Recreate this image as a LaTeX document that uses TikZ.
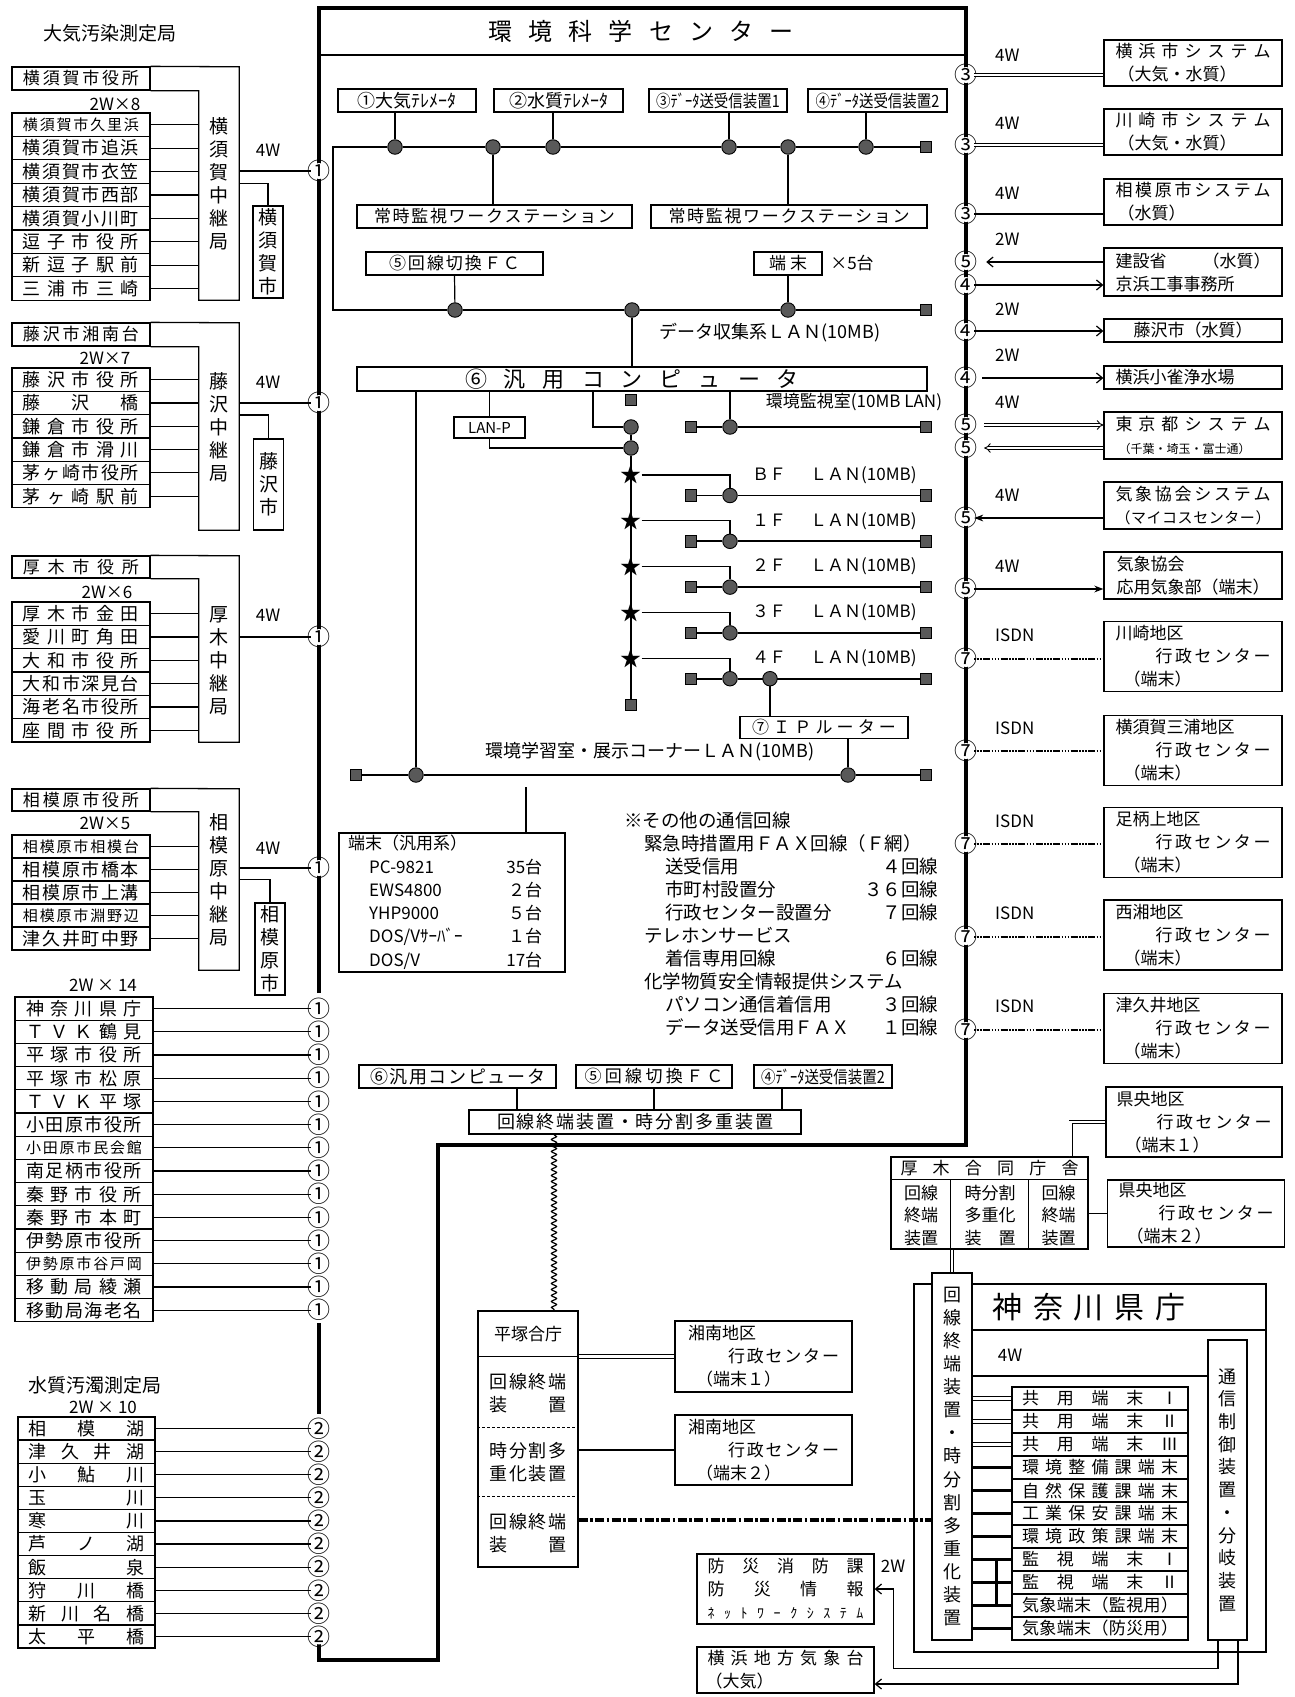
\documentclass[tikz,border=0pt]{standalone}
\usepackage{fontspec}
\setmainfont{Noto Sans CJK JP}
\usepackage{graphicx}
\usetikzlibrary{arrows.meta,decorations.pathmorphing}

% spread a run of characters over a given width
\def\spreadend{}
\newcommand\spreadjp[2]{\makebox[#1][s]{\expandafter\spreadfirst#2\spreadend}}
\def\spreadfirst#1{#1\spreadrest}
\def\spreadrest#1{\ifx#1\spreadend\else\hfil#1\expandafter\spreadrest\fi}
% circled number centred on the node
\newcommand\cgl[1]{\makebox[0pt]{\raisebox{-0.38em}[0pt][0pt]{#1}}}

\begin{document}
\begin{tikzpicture}[x=1pt,y=-1pt,
  every node/.style={font=\fontsize{17}{23}\selectfont,inner sep=0pt},
  box/.style={draw,line width=1.3pt,fill=white},
  outl/.style={line width=1.3pt},
  ln/.style={line width=1.2pt},
  lan/.style={line width=1.8pt},
  trunk/.style={line width=3.6pt},
  dl/.style={double,double distance=2.4pt,line width=0.9pt},
  cn/.style={circle,fill=white,inner sep=0pt,minimum size=16pt,font=\fontsize{23}{23}\selectfont},
  tap/.style={circle,draw,line width=0.9pt,fill=black!65,minimum size=14.5pt},
  term/.style={draw,line width=0.9pt,fill=black!65,minimum size=11.5pt},
  vtxt/.style={align=center,font=\fontsize{19}{23}\selectfont},
  barb/.style={-{Straight Barb[length=6pt,width=10pt]}},
  isdn/.style={line width=1.1pt,dash pattern=on 1.5pt off 1.5pt on 1.5pt off 1.5pt on 1.5pt off 1.5pt on 7pt off 1.5pt},
  hdash/.style={line width=3.2pt,dash pattern=on 9pt off 2.5pt on 2.5pt off 2.5pt},
  rbox/.style={box,minimum width=178pt,align=left},
  gbox/.style={box,minimum width=177pt,minimum height=70pt,align=left}
]
\fill[white] (0,0) rectangle (1295,1697);
\useasboundingbox (0,0) rectangle (1295,1697);

% trunk of the centre
\draw[trunk] (319,993) -- (319,8) -- (966,8) -- (966,1145) -- (438,1145) -- (438,1660) -- (319,1660) -- (319,1643);
\draw[trunk] (319,1323) -- (319,1414);
\draw[ln] (319,55) -- (966,55);
\node (title) at (641,31) {\fontsize{24}{24}\selectfont\spreadjp{305pt}{環境科学センター}};

% ---- left: 大気汚染測定局
\node (air) at (110,33) {\fontsize{19}{19}\selectfont 大気汚染測定局};

% 横須賀
\node[box,minimum width=138pt,minimum height=23pt] (yk0) at (81,78.5) {\spreadjp{116pt}{横須賀市役所}};
\node[minimum width=40pt,minimum height=233pt] (ykr) at (219,183.5) {};
\draw[outl] (yk0.north east) -- (ykr.north east) -- (ykr.south east) -- (ykr.south west) -- (ykr.west |- yk0.south east) -- (yk0.south east);
\node[vtxt] (ykrt) at (219,184) {横\\須\\賀\\中\\継\\局};
\node (yk2w) at (115,104) {2W×8};
\foreach \t/\sz [count=\i] in {横須賀市久里浜/15,横須賀市追浜/18,横須賀市衣笠/18,横須賀市西部/18,
  横須賀小川町/18,逗子市役所/18,新逗子駅前/18,三浦市三崎/18}{
  \node[box,minimum width=138pt,minimum height=23.4pt,font=\fontsize{\sz}{\sz}\selectfont] (yk\i) at (81,{113+23.4*(\i-0.5)}) {\spreadjp{116pt}{\t}};
  \draw[ln] (yk\i.east) -- (yk\i.east -| ykr.west);
}
\node[cn] (c1a) at (319,171) {\cgl{①}};
\node (yk4w) at (268,150) {4W};
\draw[ln] (ykr.east |- c1a) -- (c1a);
\node[box,minimum width=30pt,minimum height=92pt,vtxt] (ykc) at (268,252) {横\\須\\賀\\市};
\draw[ln] (ykr.east) -| (ykc.north);

% 藤沢
\node[box,minimum width=138pt,minimum height=23pt] (fj0) at (81,334.5) {\spreadjp{116pt}{藤沢市湘南台}};
\node[minimum width=40pt,minimum height=207pt] (fjr) at (219,426.5) {};
\draw[outl] (fj0.north east) -- (fjr.north east) -- (fjr.south east) -- (fjr.south west) -- (fjr.west |- fj0.south east) -- (fj0.south east);
\node[vtxt] (fjrt) at (219,427) {藤\\沢\\中\\継\\局};
\node (fj2w) at (105,358) {2W×7};
\foreach \t/\sz [count=\i] in {藤沢市役所/18,藤沢橋/18,鎌倉市役所/18,鎌倉市滑川/18,茅ヶ崎市役所/18,茅ヶ崎駅前/18}{
  \node[box,minimum width=138pt,minimum height=23.3pt,font=\fontsize{\sz}{\sz}\selectfont] (fj\i) at (81,{368+23.3*(\i-0.5)}) {\spreadjp{116pt}{\t}};
  \draw[ln] (fj\i.east) -- (fj\i.east -| fjr.west);
}
\node[cn] (c1b) at (319,403) {\cgl{①}};
\node (fj4w) at (268,382) {4W};
\draw[ln] (fjr.east |- c1b) -- (c1b);
\node[box,minimum width=30pt,minimum height=91pt,vtxt] (fjc) at (268.5,484.5) {藤\\沢\\市};
\draw[ln] ([yshift=11.5pt]fjr.east) -| (fjc.north);

% 厚木
\node[box,minimum width=138pt,minimum height=22pt] (at0) at (81,567) {\spreadjp{116pt}{厚木市役所}};
\node[minimum width=40pt,minimum height=186pt] (atr) at (219,649) {};
\draw[outl] (at0.north east) -- (atr.north east) -- (atr.south east) -- (atr.south west) -- (atr.west |- at0.south east) -- (at0.south east);
\node[vtxt] (atrt) at (219,661) {厚\\木\\中\\継\\局};
\node (at2w) at (107,592) {2W×6};
\foreach \t/\sz [count=\i] in {厚木市金田/18,愛川町角田/18,大和市役所/18,大和市深見台/18,海老名市役所/18,座間市役所/18}{
  \node[box,minimum width=138pt,minimum height=23.33pt,font=\fontsize{\sz}{\sz}\selectfont] (at\i) at (81,{602+23.33*(\i-0.5)}) {\spreadjp{116pt}{\t}};
  \draw[ln] (at\i.east) -- (at\i.east -| atr.west);
}
\node[cn] (c1c) at (319,637) {\cgl{①}};
\node (at4w) at (268,615) {4W};
\draw[ln] (atr.east |- c1c) -- (c1c);

% 相模原
\node[box,minimum width=138pt,minimum height=22pt] (sg0) at (81,800) {\spreadjp{116pt}{相模原市役所}};
\node[minimum width=40pt,minimum height=181pt] (sgr) at (219,879.5) {};
\draw[outl] (sg0.north east) -- (sgr.north east) -- (sgr.south east) -- (sgr.south west) -- (sgr.west |- sg0.south east) -- (sg0.south east);
\node[vtxt] (sgrt) at (219,880) {相\\模\\原\\中\\継\\局};
\node (sg2w) at (105,823) {2W×5};
\foreach \t/\sz [count=\i] in {相模原市相模台/15,相模原市橋本/18,相模原市上溝/18,相模原市淵野辺/15,津久井町中野/18}{
  \node[box,minimum width=138pt,minimum height=23pt,font=\fontsize{\sz}{\sz}\selectfont] (sg\i) at (81,{835+23*(\i-0.5)}) {\spreadjp{116pt}{\t}};
  \draw[ln] (sg\i.east) -- (sg\i.east -| sgr.west);
}
\node[cn] (c1d) at (319,868) {\cgl{①}};
\node (sg4w) at (268,848) {4W};
\draw[ln] (sgr.east |- c1d) -- (c1d);
\node[box,minimum width=30pt,minimum height=92pt,vtxt] (sgc) at (270,949) {相\\模\\原\\市};
\draw[ln] (sgr.east) -| (sgc.north);

% 2W x 14
\node (k14) at (103,985) {2W × 14};
\foreach \t/\sz [count=\i] in {神奈川県庁/18,ＴＶＫ鶴見/18,平塚市役所/18,平塚市松原/18,ＴＶＫ平塚/18,小田原市役所/18,
  小田原市民会館/15,南足柄市役所/18,秦野市役所/18,秦野市本町/18,伊勢原市役所/18,伊勢原市谷戸岡/15,移動局綾瀬/18,移動局海老名/18}{
  \node[box,minimum width=138pt,minimum height=23.2pt,font=\fontsize{\sz}{\sz}\selectfont] (ka\i) at (84,{997+23.2*(\i-0.5)}) {\spreadjp{116pt}{\t}};
  \node[cn] (kc\i) at (319,{997+23.2*(\i-0.5)}) {\cgl{①}};
  \draw[ln] (ka\i.east) -- (kc\i);
}

% 水質汚濁測定局
\node (wq) at (95,1385) {\fontsize{19}{19}\selectfont 水質汚濁測定局};
\node (w10) at (103,1407) {2W × 10};
\foreach \t [count=\i] in {相模湖,津久井湖,小鮎川,玉川,寒川,芦ノ湖,飯泉,狩川橋,新川名橋,太平橋}{
  \node[box,minimum width=137pt,minimum height=23.1pt,font=\fontsize{18}{18}\selectfont] (wa\i) at (86.5,{1417+23.1*(\i-0.5)}) {\spreadjp{116pt}{\t}};
  \node[cn] (wc\i) at (319,{1417+23.1*(\i-0.5)}) {\cgl{②}};
  \draw[ln] (wa\i.east) -- (wc\i);
}

% ---- centre: データ収集系
\node[box,minimum width=138pt,minimum height=23pt] (tel1) at (407,100.5) {\fontsize{18}{18}\selectfont ①大気ﾃﾚﾒｰﾀ};
\node[box,minimum width=129pt,minimum height=23pt] (tel2) at (558.5,100.5) {\fontsize{18}{18}\selectfont ②水質ﾃﾚﾒｰﾀ};
\node[box,minimum width=138pt,minimum height=23pt] (dat1) at (718,100.5) {\scalebox{0.85}[1]{③ﾃﾞｰﾀ送受信装置1}};
\node[box,minimum width=139pt,minimum height=23pt] (dat2) at (877.5,100.5) {\scalebox{0.85}[1]{④ﾃﾞｰﾀ送受信装置2}};
\coordinate (lanA) at (333,147);
\coordinate (lanB) at (333,310);
\node[tap] (t1) at (395,147) {};
\node[tap] (t2) at (493,147) {};
\node[tap] (t3) at (553,147) {};
\node[tap] (t4) at (729,147) {};
\node[tap] (t5) at (788,147) {};
\node[tap] (t6) at (866,147) {};
\node[term] (e1) at (926,147) {};
\node[tap] (f1) at (455,310) {};
\node[tap] (f2) at (632,310) {};
\node[tap] (f3) at (788,310) {};
\node[term] (e2) at (926,310) {};
\draw[lan] (t1) -- (t2) -- (t3) -- (t4) -- (t5) -- (t6) -- (e1);
\draw[lan] (t1) -- (lanA) -- (lanB) -- (f1) -- (f2) -- (f3) -- (e2);
\draw[ln] (tel1.south -| t1) -- (t1);
\draw[ln] (tel2.south -| t3) -- (t3);
\draw[ln] (dat1.south -| t4) -- (t4);
\draw[ln] (dat2.south -| t6) -- (t6);
\node[box,minimum width=275pt,minimum height=23pt] (ws1) at (494.5,216.5) {\spreadjp{241pt}{常時監視ワークステーション}};
\node[box,minimum width=276pt,minimum height=23pt] (ws2) at (789,216.5) {\spreadjp{241pt}{常時監視ワークステーション}};
\draw[ln] (t2) -- (t2 |- ws1.north);
\draw[ln] (t5) -- (t5 |- ws2.north);
\node[box,minimum width=177pt,minimum height=23pt] (fc) at (454.5,263.5) {\spreadjp{131pt}{⑤回線切換ＦＣ}};
\node[box,minimum width=68pt,minimum height=23pt] (tmn) at (788,263.5) {\spreadjp{38pt}{端末}};
\node (x5) at (852,263) {×5台};
\draw[ln] (fc.south) -- (f1);
\draw[ln] (tmn.south) -- (f3);
\node (lan2lbl) at (770,333) {\fontsize{18}{18}\selectfont データ収集系ＬＡＮ(10MB)};

% 汎用コンピュータ
\node[box,minimum width=570pt,minimum height=24pt] (hy) at (642,379) {\fontsize{22}{22}\selectfont\hspace*{-20pt}\spreadjp{334pt}{⑥汎用コンピュータ}};
\draw[ln] (f2) -- (f2 |- hy.north);
\node[box,minimum width=71pt,minimum height=21pt] (lp) at (489.5,427.5) {\fontsize{15}{15}\selectfont LAN-P};
\draw[ln] (lp.north |- hy.south) -- (lp.north);
\node[term] (sq0) at (631,400) {};
\node[tap] (va) at (631,427) {};
\node[tap] (vb) at (631,448) {};
\node[term] (sqend) at (631,705) {};
\coordinate (hk) at (593,391);
\draw[ln] (hk) |- (va);
\draw[ln] (lp.south) |- (vb);
\draw[ln] (va) -- (vb) -- (sqend);
% 環境監視室
\node[term] (sqk1) at (691,427) {};
\node[tap] (tk) at (730,427) {};
\node[term] (sqk2) at (926,427) {};
\draw[ln] (tk |- hy.south) -- (tk);
\draw[lan] (sqk1) -- (tk) -- (sqk2);
\node (kklbl) at (854,402) {環境監視室(10MB LAN)};
% floors
\foreach \fl [count=\i] in {ＢＦ,１Ｆ,２Ｆ,３Ｆ,４Ｆ}{
  \node[font=\fontsize{21}{21}\selectfont] (st\i) at (631,{475+45.8*(\i-1)}) {★};
  \node[term] (fa\i) at (691,{495.5+45.8*(\i-1)}) {};
  \node[tap] (fb\i) at (730,{495.5+45.8*(\i-1)}) {};
  \node[term] (fe\i) at (926,{495.5+45.8*(\i-1)}) {};
  \draw[ln] (st\i) -| (fb\i);
  \draw[lan] (fa\i) -- (fb\i) -- (fe\i);
  \node[anchor=west] (fl\i) at (752,{475+45.8*(\i-1)}) {\fl\hspace{24pt}ＬＡＮ(10MB)};
}
\node[tap] (ipt) at (770,678.7) {};
\node[box,minimum width=168pt,minimum height=22pt] (ip) at (824,727.5) {\spreadjp{144pt}{⑦ＩＰルーター}};
\draw[ln] (ipt) -- (ipt |- ip.north);
% 環境学習室 LAN
\node[term] (sqg1) at (356,775) {};
\node[tap] (g1) at (416,775) {};
\node[tap] (g2) at (848,775) {};
\node[term] (sqg2) at (926,775) {};
\draw[lan] (sqg1) -- (g1) -- (g2) -- (sqg2);
\draw[ln] (g1 |- hy.south) -- (g1);
\draw[ln] (ip.south -| g2) -- (g2);
\node (lan3lbl) at (650,752) {\fontsize{18}{18}\selectfont 環境学習室・展示コーナーＬＡＮ(10MB)};

% 端末（汎用系）
\node[box,minimum width=226pt,minimum height=139pt] (hb) at (452,902.5) {};
\coordinate (hbs) at (526,787);
\draw[ln] (hbs) -- (hbs |- hb.north);
\node[anchor=north west,align=left,font=\fontsize{17}{23.3}\selectfont] (hbt) at (348,835) {端末（汎用系）\\
  \hspace*{21pt}\makebox[173pt]{PC-9821\hfill 35台}\\
  \hspace*{21pt}\makebox[173pt]{EWS4800\hfill ２台}\\
  \hspace*{21pt}\makebox[173pt]{YHP9000\hfill ５台}\\
  \hspace*{21pt}\makebox[173pt]{DOS/Vｻｰﾊﾞｰ\hfill １台}\\
  \hspace*{21pt}\makebox[173pt]{DOS/V\hfill 17台}};

% その他の通信回線
\node[anchor=north west,align=left,font=\fontsize{18.5}{23}\selectfont] (notes) at (624,812) {※その他の通信回線\\
  \hspace*{20pt}緊急時措置用ＦＡＸ回線（Ｆ網）\\
  \hspace*{41pt}\makebox[273pt]{送受信用\hfill ４回線}\\
  \hspace*{41pt}\makebox[273pt]{市町村設置分\hfill ３６回線}\\
  \hspace*{41pt}\makebox[273pt]{行政センター設置分\hfill ７回線}\\
  \hspace*{20pt}テレホンサービス\\
  \hspace*{41pt}\makebox[273pt]{着信専用回線\hfill ６回線}\\
  \hspace*{20pt}化学物質安全情報提供システム\\
  \hspace*{41pt}\makebox[273pt]{パソコン通信着信用\hfill ３回線}\\
  \hspace*{41pt}\makebox[273pt]{データ送受信用ＦＡＸ\hfill １回線}};

% 回線終端装置・時分割多重装置
\node[box,minimum width=197pt,minimum height=23pt] (bf6) at (457.5,1076.5) {\fontsize{18}{18}\selectfont\spreadjp{175pt}{⑥汎用コンピュータ}};
\node[box,minimum width=156pt,minimum height=23pt] (bf5) at (654,1076.5) {\spreadjp{139pt}{⑤回線切換ＦＣ}};
\node[box,minimum width=138pt,minimum height=23pt] (bf4) at (823,1076.5) {\scalebox{0.85}[1]{④ﾃﾞｰﾀ送受信装置2}};
\node[box,minimum width=332pt,minimum height=24pt] (mux) at (635,1122) {\fontsize{18}{18}\selectfont\spreadjp{276pt}{回線終端装置・時分割多重装置}};
\coordinate (s6) at (517,1088);
\coordinate (s4) at (782,1088);
\draw[ln] (s6) -- (s6 |- mux.north);
\draw[ln] (bf5.south) -- (bf5.south |- mux.north);
\draw[ln] (s4) -- (s4 |- mux.north);

% 平塚合庁
\node[box,minimum width=100pt,minimum height=256pt] (hira) at (528,1439) {};
\draw[ln] ([yshift=-46pt]hira.north west) -- ([yshift=-46pt]hira.north east);
\draw[ln,dash pattern=on 3pt off 2pt] ([yshift=-117pt]hira.north west) -- ([yshift=-117pt]hira.north east);
\draw[ln,dash pattern=on 3pt off 2pt] ([yshift=-186pt]hira.north west) -- ([yshift=-186pt]hira.north east);
\node (hr0) at (528,1334) {平塚合庁};
\node[align=left,font=\fontsize{18}{23}\selectfont] (hr1) at (528,1393.5) {\spreadjp{77pt}{回線終端}\\\spreadjp{77pt}{装置}};
\node[align=left,font=\fontsize{18}{23}\selectfont] (hr2) at (528,1462.5) {\spreadjp{77pt}{時分割多}\\\spreadjp{77pt}{重化装置}};
\node[align=left,font=\fontsize{18}{23}\selectfont] (hr3) at (528,1533.5) {\spreadjp{77pt}{回線終端}\\\spreadjp{77pt}{装置}};
\draw[ln,decorate,decoration={snake,amplitude=2.5pt,segment length=6pt}] ([xshift=-81pt]mux.south) -- ([xshift=26pt]hira.north);
\node[gbox,minimum height=71pt] (sh1) at (763.5,1356.5) {湘南地区\\\hspace*{40pt}\spreadjp{111pt}{行政センター}\\\hspace*{8pt}（端末１）};
\node[gbox] (sh2) at (763.5,1450) {湘南地区\\\hspace*{40pt}\spreadjp{111pt}{行政センター}\\\hspace*{8pt}（端末２）};
\draw[dl] (sh1.west -| hira.east) -- (sh1.west);
\draw[ln] (sh2.west -| hira.east) -- (sh2.west);

% ---- right side
\foreach \g/\y [count=\i] in {③/75,③/145,③/214,⑤/262,④/285,④/331,④/378,⑤/425,⑤/448,⑤/518,⑤/589,⑦/659,⑦/751,⑦/844,⑦/937,⑦/1030}
  \node[cn] (rc\i) at (966,\y) {\cgl{\g}};
\foreach \w/\y [count=\i] in {4W/55,4W/123,4W/193,2W/239,2W/309,2W/355,4W/402,4W/495,4W/566,ISDN/635,ISDN/728,ISDN/821,ISDN/913,ISDN/1006}
  \node[anchor=west] (wl\i) at (995,\y) {\w};
\node[rbox,minimum height=46pt] (R1) at (1193,63) {\spreadjp{155pt}{横浜市システム}\\\hspace*{2pt}（大気・水質）};
\node[rbox,minimum height=46pt] (R2) at (1193,132) {\spreadjp{155pt}{川崎市システム}\\\hspace*{2pt}（大気・水質）};
\node[rbox,minimum height=46pt] (R3) at (1193,202) {\spreadjp{155pt}{相模原市システム}\\\hspace*{2pt}（水質）};
\node[rbox,minimum height=48pt] (R4) at (1193,272) {\makebox[155pt]{建設省\hfill（水質）}\\京浜工事事務所};
\node[box,minimum width=178pt,minimum height=23pt] (R5) at (1193,330.5) {藤沢市（水質）};
\node[rbox,minimum height=23pt] (R6) at (1193,377.5) {\makebox[155pt][l]{横浜小雀浄水場}};
\node[rbox,minimum height=47pt] (R7) at (1193,435.5) {\spreadjp{155pt}{東京都システム}\\{\fontsize{12}{14}\selectfont\hspace*{3pt}（千葉・埼玉・富士通）}};
\node[rbox,minimum height=47pt] (R8) at (1193,505.5) {\spreadjp{155pt}{気象協会システム}\\{\fontsize{15}{15}\selectfont\spreadjp{155pt}{（マイコスセンター）}}};
\node[rbox,minimum height=47pt] (R9) at (1193,575.5) {気象協会\\応用気象部（端末）};
\draw[dl] (rc1) -- (rc1 -| R1.west);
\draw[dl] (rc2) -- (rc2 -| R2.west);
\draw[ln] (rc3) -- (rc3 -| R3.west);
\draw[ln,barb,shorten >=12pt] (rc4 -| R4.west) -- (rc4);
\draw[ln,barb] (rc5) -- (rc5 -| R4.west);
\draw[ln,barb] (rc6) -- (rc6 -| R5.west);
\draw[ln,barb,shorten <=8pt] (rc7) -- (rc7 -| R6.west);
\draw[dl,-{Implies},shorten <=10pt] (rc8) -- (rc8 -| R7.west);
\draw[dl,-{Implies},shorten >=10pt] (rc9 -| R7.west) -- (rc9);
\draw[line width=2.8pt,-{Stealth[length=9pt]}] (rc10 -| R8.west) -- (rc10);
\draw[line width=2.8pt,-{Stealth[length=9pt]}] (rc11) -- (rc11 -| R9.west);
\foreach \n/\y/\nm [count=\i from 12] in {K1/656.5/川崎地区,K2/750.5/横須賀三浦地区,K3/842.5/足柄上地区,K4/935/西湘地区,K5/1028.5/津久井地区}{
  \node[gbox,minimum width=178pt] (\n) at (1193,\y) {\nm\\\hspace*{40pt}\spreadjp{115pt}{行政センター}\\\hspace*{8pt}（端末）};
  \draw[isdn] (rc\i) -- (rc\i -| \n.west);
}
\node[gbox,minimum width=176pt] (KO1) at (1194,1122) {県央地区\\\hspace*{40pt}\spreadjp{115pt}{行政センター}\\\hspace*{8pt}（端末１）};
\node[gbox,minimum height=67pt] (KO2) at (1196,1213.5) {県央地区\\\hspace*{40pt}\spreadjp{115pt}{行政センター}\\\hspace*{8pt}（端末２）};

% 厚木合同庁舎
\node[box,minimum width=197pt,minimum height=92pt] (atg) at (989.5,1203) {};
\draw[ln] ([yshift=-23pt]atg.north west) -- ([yshift=-23pt]atg.north east);
\draw[ln] ([xshift=60pt,yshift=-23pt]atg.north west) -- ([xshift=60pt]atg.south west);
\draw[ln] ([xshift=138pt,yshift=-23pt]atg.north west) -- ([xshift=138pt]atg.south west);
\node (atgh) at (989.5,1168.5) {\spreadjp{178pt}{厚木合同庁舎}};
\node[align=center,font=\fontsize{17}{22.5}\selectfont] (atc1) at (921,1215.5) {回線\\終端\\装置};
\node[align=center,font=\fontsize{17}{22.5}\selectfont] (atc2) at (990,1215.5) {時分割\\多重化\\\spreadjp{51pt}{装置}};
\node[align=center,font=\fontsize{17}{22.5}\selectfont] (atc3) at (1058.5,1215.5) {回線\\終端\\装置};
\draw[dl] ([xshift=-18pt]atg.north east) |- (KO1.west);
\draw[ln] (atg.east |- KO2.west) -- (KO2.west);

% 神奈川県庁
\node[draw,line width=1.5pt,minimum width=352pt,minimum height=368pt] (kfr) at (1090,1468) {};
\draw[outl] (972,1330) -- (1266,1330);
\node (kt) at (1089,1307) {\fontsize{30}{30}\selectfont\spreadjp{193pt}{神奈川県庁}};
\node[box,minimum width=40pt,minimum height=367pt,vtxt,font=\fontsize{18}{23.1}\selectfont] (kvt) at (952,1456.5) {回\\線\\終\\端\\装\\置\\・\\時\\分\\割\\多\\重\\化\\装\\置};
\draw[dl] (kvt.north |- atg.south) -- (kvt.north);
\node[box,minimum width=39pt,minimum height=300pt,vtxt,font=\fontsize{18}{22.7}\selectfont] (tsu) at (1227.5,1490) {通\\信\\制\\御\\装\\置\\・\\分\\岐\\装\\置};
\node (kw) at (1010,1355) {4W};
\draw[ln] ([yshift=80.5pt]kvt.east) -- ([yshift=114pt]tsu.west);
\foreach \t [count=\i] in {共用端末Ⅰ,共用端末Ⅱ,共用端末Ⅲ,環境整備課端末,自然保護課端末,工業保安課端末,環境政策課端末,
  監視端末Ⅰ,監視端末Ⅱ,気象端末（監視用）,気象端末（防災用）}
  \node[box,minimum width=176pt,minimum height=23pt] (tr\i) at (1100,{1387+23*(\i-0.5)}) {\spreadjp{156pt}{\t}};
\foreach \i in {1,2,3}
  \draw[dl] (tr\i.west -| kvt.east) -- (tr\i.west);
\foreach \i in {4,...,11}
  \draw[line width=2.4pt] (tr\i.west -| kvt.east) -- (tr\i.west);
\draw[line width=2.4pt] ([xshift=-15pt]tr8.west) -- ([xshift=-15pt]tr10.west);

% 平塚 -> 県庁
\coordinate (hd) at ([yshift=-81pt]hira.east);
\draw[hdash] (hd) -- (hd -| kvt.west);

% 防災 / 気象台
\node[box,minimum width=177pt,minimum height=70pt,align=left] (bs) at (785.5,1589) {\spreadjp{156pt}{防災消防課}\\\spreadjp{156pt}{防災情報}\\{\fontsize{14}{14}\selectfont\spreadjp{156pt}{ﾈｯﾄﾜｰｸｼｽﾃﾑ}}};
\node[box,minimum width=177pt,minimum height=46pt,align=left] (ym) at (785.5,1670) {\spreadjp{156pt}{横浜地方気象台}\\\hspace*{-2pt}（大気）};
\node (bw) at (893,1566) {2W};
\draw[ln,barb] ([xshift=-9.5pt]tsu.south) -- ++(0,28) -| ([xshift=19pt]bs.east) -- (bs.east);
\draw[ln,barb] ([xshift=10.5pt]tsu.south) |- ([yshift=-14pt]ym.east);
\end{tikzpicture}
\end{document}
